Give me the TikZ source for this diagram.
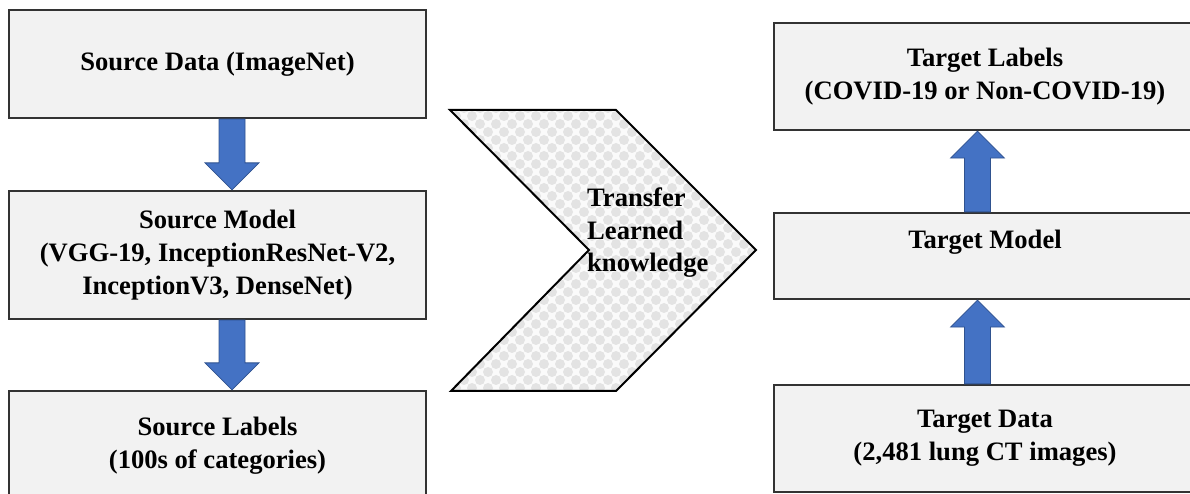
\documentclass[tikz,border=0pt]{standalone}
\usepackage{fontspec}
\setmainfont{Liberation Serif}
\usetikzlibrary{calc}
\definecolor{boxfill}{HTML}{F2F2F2}
\definecolor{boxline}{HTML}{333333}
\definecolor{arrfill}{HTML}{4472C4}
\definecolor{arrline}{HTML}{2F528F}
\definecolor{patbase}{HTML}{FAFAFA}
\definecolor{patdot}{HTML}{E3E3E3}
\newcommand\fatdown[2]{%
  \draw[fatarrow] let \p1=#1, \p2=#2 in
    (\x1-13bp,\y1) -- (\x1-13bp,\y2+27bp) -- (\x1-27bp,\y2+27bp) -- (\x2,\y2)
    -- (\x1+27bp,\y2+27bp) -- (\x1+13bp,\y2+27bp) -- (\x1+13bp,\y1) -- cycle;}
\newcommand\fatup[2]{%
  \draw[fatarrow] let \p1=#1, \p2=#2 in
    (\x1-13bp,\y1) -- (\x1-13bp,\y2-27bp) -- (\x1-27bp,\y2-27bp) -- (\x2,\y2)
    -- (\x1+27bp,\y2-27bp) -- (\x1+13bp,\y2-27bp) -- (\x1+13bp,\y1) -- cycle;}
\tikzset{
  box/.style={draw=boxline, fill=boxfill, line width=2.2bp, rectangle,
    align=center, inner sep=0pt, font=\bfseries\fontsize{26.6bp}{33bp}\selectfont},
  fatarrow/.style={fill=arrfill, draw=arrline, line width=0.8bp, line join=miter},
  chev/.style={draw=black, line width=2bp, line join=miter},
}
\begin{document}
\begin{tikzpicture}[x=1bp, y=-1bp]
\useasboundingbox (0,0) rectangle (1190,494);
% left column
\node[box, minimum width=417bp, minimum height=108bp] (sd) at (217.5,64) {Source Data (ImageNet)};
\node[box, minimum width=417bp, minimum height=128bp] (sm) at (217.5,255) {Source Model\\(VGG-19, InceptionResNet-V2,\\InceptionV3, DenseNet)};
\node[box, minimum width=417bp, minimum height=110bp] (sl) at (217.5,446) {Source Labels\\(100s of categories)};
% right column
\node[box, minimum width=422bp, minimum height=107bp] (tl) at (985,76.5) {Target Labels\\(COVID-19 or Non-COVID-19)};
\node[box, minimum width=422bp, minimum height=86bp] (tm) at (985,256) {Target Model\\~};
\node[box, minimum width=422bp, minimum height=107bp] (td) at (985,438.5) {Target Data\\(2,481 lung CT images)};
% arrow axes
\coordinate (lax) at (232,0);
\coordinate (rax) at (977.5,0);
\fatdown{(sd.south -| lax)}{(sm.north -| lax)}
\fatdown{(sm.south -| lax)}{(sl.north -| lax)}
\fatup{(tm.north -| rax)}{(tl.south -| rax)}
\fatup{(td.north -| rax)}{(tm.south -| rax)}
% chevron
\begin{scope}
  \clip (450,110) -- (616,110) -- (756,250) -- (616,391) -- (451,391) -- (589,250) -- cycle;
  \fill[patbase] (440,100) rectangle (770,400);
  \foreach \i in {0,...,21}{
    \foreach \j in {0,...,19}{
      \fill[patdot] (440+\i*16,100+\j*16) circle (5bp);
      \fill[patdot] (448+\i*16,108+\j*16) circle (5bp);
    }
  }
\end{scope}
\draw[chev] (450,110) -- (616,110) -- (756,250) -- (616,391) -- (451,391) -- (589,250) -- cycle;
\node[anchor=west, align=left, inner sep=0pt, font=\bfseries\fontsize{26.6bp}{32.5bp}\selectfont] (xfer) at (587,233) {Transfer\\Learned\\knowledge};
\end{tikzpicture}
\end{document}
